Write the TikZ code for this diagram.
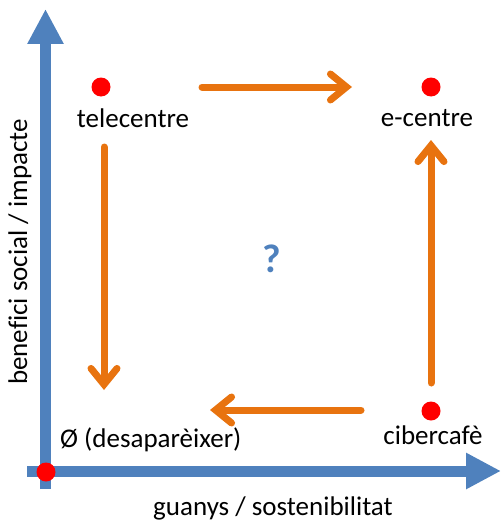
\documentclass[tikz,border=0pt]{standalone}
\usepackage{fontspec}
\setmainfont[Ligatures=NoCommon]{Carlito}
\usetikzlibrary{arrows.meta}
\definecolor{axisblue}{HTML}{4F81BD}
\definecolor{flow}{HTML}{E8730F}
\definecolor{dotred}{HTML}{FF0000}
\tikzset{
  x=1pt, y=-1pt,
  dot/.style={circle, fill=dotred, inner sep=0pt, minimum size=19pt},
  lbl/.style={font=\fontsize{27}{32}\selectfont, text=black, inner sep=0pt},
  axis/.style={draw=axisblue, line width=11pt, -{Triangle[width=34pt,length=35pt]}},
  flowarrow/.style={draw=flow, line width=7pt, line cap=round, -{Straight Barb[length=16pt,width=26pt,line cap=round]}}
}
\begin{document}
\begin{tikzpicture}
\useasboundingbox (0,0) rectangle (501,527);
% axes
\coordinate (vstart) at (45.5,489);
\coordinate (vend) at (45.5,9);
\coordinate (hstart) at (27,471);
\coordinate (hend) at (501,471);
\draw[axis] (vstart) -- (vend);
\draw[axis] (hstart) -- (hend);
% dots
\node[dot] (o) at (46,472) {};
\node[dot] (t) at (101,87) {};
\node[dot] (e) at (431,87) {};
\node[dot] (c) at (431,411) {};
% labels
\node[lbl] (tl) at (133,118) {telecentre};
\node[lbl] (el) at (427,118) {e-centre};
\node[lbl] (cl) at (433,435) {cibercafè};
\node[lbl, anchor=west] (ol) at (60,440) {Ø (desaparèixer)};
\node[font=\fontsize{40}{44}\bfseries\selectfont, text=axisblue, inner sep=0pt] (q) at (272,259) {?};
\node[lbl] (xl) at (273,508) {guanys / sostenibilitat};
\node[lbl, rotate=90] (yl) at (20,252) {benefici social / impacte};
% flows
\coordinate (a1) at (202,87); \coordinate (a2) at (352,87);
\coordinate (b1) at (104,147); \coordinate (b2) at (104,390);
\coordinate (c1) at (431,383); \coordinate (c2) at (431,140);
\coordinate (d1) at (361,410); \coordinate (d2) at (210,410);
\draw[flowarrow] (a1) -- (a2);
\draw[flowarrow] (b1) -- (b2);
\draw[flowarrow] (c1) -- (c2);
\draw[flowarrow] (d1) -- (d2);
\end{tikzpicture}
\end{document}
